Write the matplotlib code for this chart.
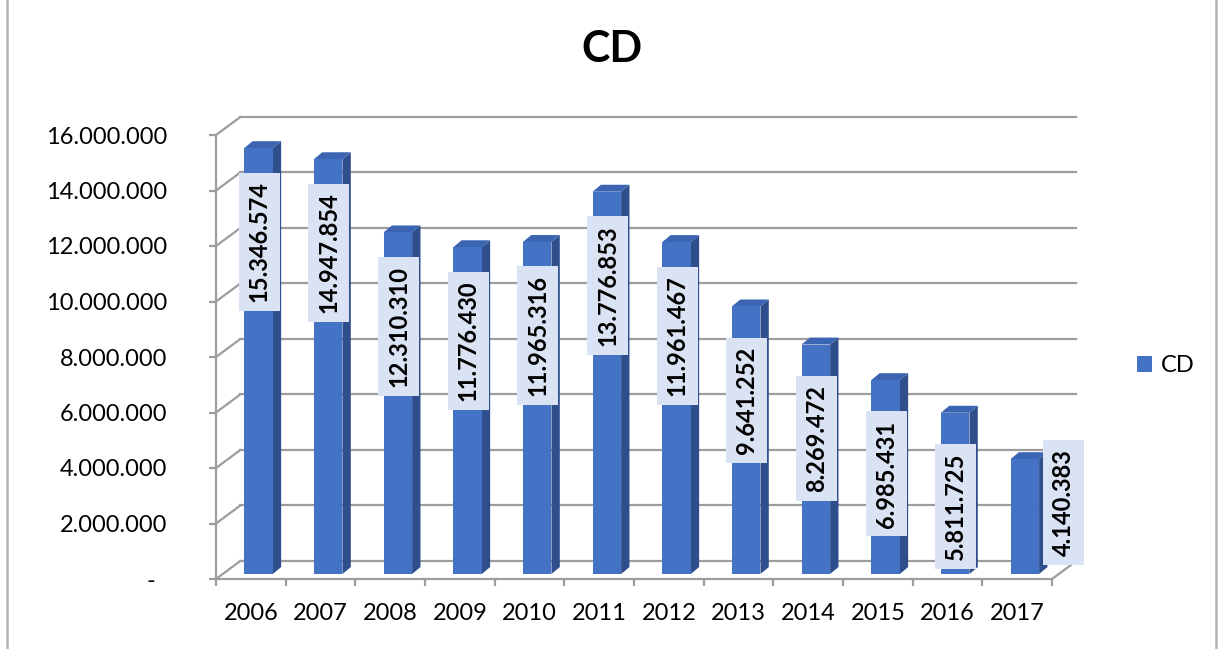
import numpy as np
import matplotlib.pyplot as plt
from matplotlib.patches import Polygon, Rectangle

plt.rcParams['font.family'] = ['Lato', 'DejaVu Sans']

# data
years = ['2006', '2007', '2008', '2009', '2010', '2011',
         '2012', '2013', '2014', '2015', '2016', '2017']
values = [15346574, 14947854, 12310310, 11776430, 11965316, 13776853,
          11961467, 9641252, 8269472, 6985431, 5811725, 4140383]
y_ticks = [0, 2000000, 4000000, 6000000, 8000000,
           10000000, 12000000, 14000000, 16000000]
series_name = 'CD'


def fmt_dots(v):
    if v == 0:
        return '-  '
    return f'{v:,}'.replace(',', '.')


# fake 3d geometry (in data units)
WALL_DX, WALL_DY = 0.35, 650000
BAR_OFF, BAR_W, BAR_BASE = 0.11, 0.41, 180000
BAR_DX, BAR_DY = 0.12, 250000
GRID = '#9d9d9d'
FRONT, SIDE, TOP = '#4472C4', '#2E4F8C', '#3B65B3'
LABEL_BG = '#DAE3F3'

fig = plt.figure(figsize=(12.2, 6.49), dpi=100)
ax = fig.add_axes([216 / 1220, 70 / 649, 836 / 1220, 444 / 649])
n = len(years)
x = np.arange(n)
ax.set_xlim(-0.5, n - 0.5)
ax.set_ylim(0, y_ticks[-1])

# walls / gridlines
for t in y_ticks:
    ax.plot([-0.5 + WALL_DX, n - 0.5 + WALL_DX], [t + WALL_DY, t + WALL_DY],
            color=GRID, lw=1.6, clip_on=False, zorder=1)
    ax.plot([-0.5, -0.5 + WALL_DX], [t, t + WALL_DY],
            color=GRID, lw=1.6, clip_on=False, zorder=1)
ax.plot([n - 0.5, n - 0.5 + WALL_DX], [0, WALL_DY],
        color=GRID, lw=1.6, clip_on=False, zorder=1)

# bars
x0 = x + BAR_OFF - BAR_W / 2
x1 = x + BAR_OFF + BAR_W / 2
ax.bar(x + BAR_OFF, values, width=BAR_W, bottom=BAR_BASE, color=FRONT,
       label=series_name, zorder=3)
for i, v in enumerate(values):
    top = BAR_BASE + v
    side = Polygon([(x1[i], BAR_BASE), (x1[i] + BAR_DX, BAR_BASE + BAR_DY),
                    (x1[i] + BAR_DX, top + BAR_DY), (x1[i], top)],
                   closed=True, fc=SIDE, ec='none', zorder=2.9, clip_on=False)
    lid = Polygon([(x0[i], top), (x1[i], top), (x1[i] + BAR_DX, top + BAR_DY),
                   (x0[i] + BAR_DX, top + BAR_DY)],
                  closed=True, fc=TOP, ec='none', zorder=2.9, clip_on=False)
    ax.add_patch(side)
    ax.add_patch(lid)

# value labels
for i, v in enumerate(values):
    if v > 5500000:
        lx, ly = x[i] + 0.12, v - 3200000
    else:
        lx, ly = x[i] + 0.664, 2770000
    ax.text(lx, ly, fmt_dots(v), rotation=90, ha='center', va='center',
            fontsize=17, fontweight='bold', color='black', zorder=5,
            bbox=dict(boxstyle='square,pad=0.38', fc=LABEL_BG, ec='none'))

# axes
for s in ['top', 'right']:
    ax.spines[s].set_visible(False)
for s in ['left', 'bottom']:
    ax.spines[s].set_color(GRID)
    ax.spines[s].set_linewidth(1.6)
ax.set_yticks(y_ticks, [fmt_dots(t) for t in y_ticks])
ax.tick_params(axis='y', length=5, width=1.6, color=GRID, pad=30,
               labelsize=17, labelcolor='black')
ax.set_xticks(np.arange(n + 1) - 0.5, [''] * (n + 1))
ax.set_xticks(x, years, minor=True)
ax.tick_params(axis='x', which='major', length=5, width=1.6, color=GRID)
ax.tick_params(axis='x', which='minor', length=0, pad=17,
               labelsize=17, labelcolor='black')
ax.patch.set_visible(False)

fig.text(612 / 1220, 1 - 49 / 649, 'CD', ha='center', va='center',
         fontsize=31, fontweight='bold')
ax.legend(loc='center left', bbox_to_anchor=(1137 / 1220, 1 - 366 / 649),
          bbox_transform=fig.transFigure, frameon=False, fontsize=17,
          handlelength=0.65, handleheight=0.65, handletextpad=0.35,
          borderpad=0, borderaxespad=0)

fig.add_artist(Rectangle((7 / 1220, -0.05), 1209 / 1220, 1.1,
                         transform=fig.transFigure, fc='none',
                         ec='#b4b4b4', lw=1.8))

fig.savefig('out.png', dpi=100)
